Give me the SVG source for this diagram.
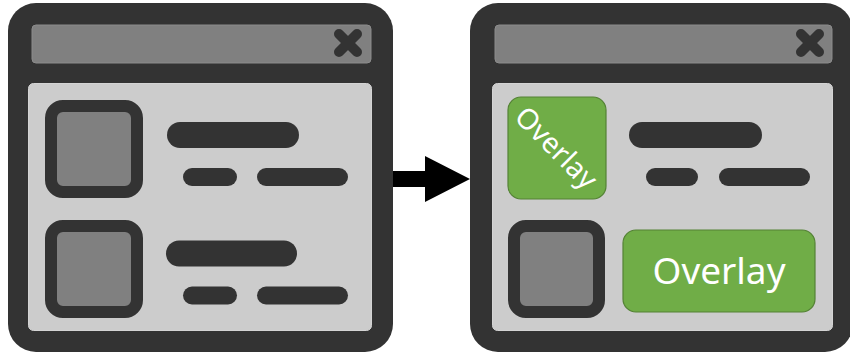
<svg xmlns="http://www.w3.org/2000/svg" width="850" height="355" viewBox="0 0 850 355">
  <style>
    .frame { fill: #333333; }
    .title { fill: #808080; stroke: #8c8c8c; stroke-width: 1; }
    .content { fill: #cccccc; stroke: #d4d4d4; stroke-width: 1; }
    .close { stroke: #333333; stroke-width: 10; stroke-linecap: round; }
    .thumb { fill: #808080; stroke: #333333; stroke-width: 12; }
    .bar { stroke: #333333; stroke-linecap: round; fill: none; }
    .big { stroke-width: 26; }
    .small { stroke-width: 18; }
    .green { fill: #70ad47; stroke: #548235; stroke-width: 1.2; }
    .lbl { fill: #ffffff; font-family: "Noto Sans", "Open Sans", sans-serif; }
  </style>

  <g id="window-left">
    <rect class="frame" x="8" y="3" width="385" height="349" rx="28"/>
    <rect class="title" x="32" y="25" width="339" height="38" rx="4"/>
    <line class="close" x1="339" y1="34" x2="357" y2="52"/>
    <line class="close" x1="357" y1="34" x2="339" y2="52"/>
    <rect class="content" x="28.5" y="83.5" width="343" height="247" rx="5"/>
    <rect class="thumb" x="51" y="106" width="86" height="86" rx="12"/>
    <rect class="thumb" x="51" y="226" width="86" height="86" rx="12"/>
    <line class="bar big" x1="180" y1="135" x2="286" y2="135"/>
    <line class="bar small" x1="192" y1="177" x2="228" y2="177"/>
    <line class="bar small" x1="266" y1="177" x2="339" y2="177"/>
    <line class="bar big" x1="179" y1="253.5" x2="284" y2="253.5"/>
    <line class="bar small" x1="192" y1="295.5" x2="228" y2="295.5"/>
    <line class="bar small" x1="266" y1="295.5" x2="339" y2="295.5"/>
  </g>

  <g id="window-right">
    <rect class="frame" x="470" y="3" width="383" height="349" rx="28"/>
    <rect class="title" x="495" y="25" width="337" height="38" rx="4"/>
    <line class="close" x1="801" y1="34" x2="819" y2="52"/>
    <line class="close" x1="819" y1="34" x2="801" y2="52"/>
    <rect class="content" x="492.5" y="83.5" width="340" height="247" rx="5"/>
    <line class="bar big" x1="642" y1="135" x2="749" y2="135"/>
    <line class="bar small" x1="655" y1="177" x2="689" y2="177"/>
    <line class="bar small" x1="728" y1="177" x2="801" y2="177"/>
    <rect class="thumb" x="514" y="226" width="85" height="86" rx="12"/>
  </g>

  <g id="overlay-thumb">
    <rect class="green" x="508" y="97" width="98" height="102" rx="13"/>
    <text class="lbl" x="0" y="0" font-size="28.5" text-anchor="middle" dominant-baseline="central" transform="translate(557,147) rotate(45)">Overlay</text>
  </g>

  <g id="overlay-text">
    <rect class="green" x="623" y="230" width="192" height="82" rx="13"/>
    <text class="lbl" x="719" y="284" font-size="37" text-anchor="middle">Overlay</text>
  </g>

  <g id="connectors">
    <polygon fill="#000000" points="393,171 425,171 425,156 470,179 425,202 425,187 393,187"/>
  </g>
</svg>
